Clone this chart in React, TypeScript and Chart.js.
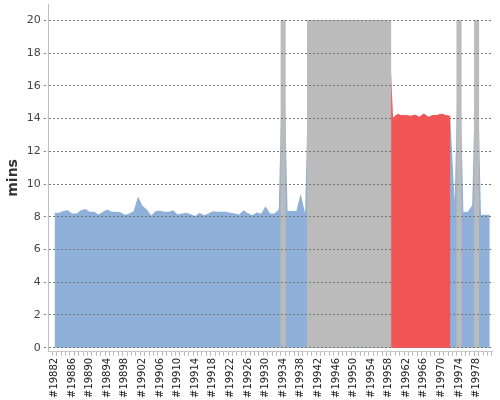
import React, { useEffect, useRef } from 'react';
import { Chart, registerables } from 'chart.js';

Chart.register(...registerables);

// Categories: episode numbers #19882 .. #19981 (one per category)
const FIRST_EPISODE = 19882;
const episodes: number[] = Array.from({ length: 100 }, (_, i) => FIRST_EPISODE + i);
const LABEL_EVERY = 4;
const yTickValues = [0, 2, 4, 6, 8, 10, 12, 14, 16, 18, 20];

// Blue series: minutes per episode (20 = capped/missing spikes)
const blueMins: number[] = [
  8.24, 8.25, 8.35, 8.4, 8.2, 8.2, 8.4, 8.47, 8.3, 8.3,
  8.14, 8.3, 8.45, 8.3, 8.3, 8.28, 8.12, 8.2, 8.35, 9.24,
  8.67, 8.45, 8.08, 8.35, 8.37, 8.3, 8.3, 8.4, 8.14, 8.2,
  8.24, 8.15, 8.05, 8.24, 8.1, 8.2, 8.34, 8.3, 8.3, 8.3,
  8.25, 8.2, 8.14, 8.4, 8.22, 8.1, 8.26, 8.18, 8.64, 8.2,
  8.2, 8.44, 20, 8.36, 8.36, 8.36, 9.4, 8.2, 20, 20,
  20, 20, 20, 20, 20, 20, 20, 20, 20, 20,
  20, 20, 20, 20, 20, 20, 20, 14.05, 14.27, 14.2,
  14.2, 14.15, 14.24, 14.1, 14.3, 14.1, 14.2, 14.2, 14.3, 14.2,
  14.15, 8.9, 20, 8.28, 8.3, 8.7, 20, 8.13, 8.13, 8.13,
];

// Grey series: missing episodes, drawn to the top of the scale
const greyMissing: (number | null)[] = [
  null, null, null, null, null, null, null, null, null, null,
  null, null, null, null, null, null, null, null, null, null,
  null, null, null, null, null, null, null, null, null, null,
  null, null, null, null, null, null, null, null, null, null,
  null, null, null, null, null, null, null, null, null, null,
  null, null, 20, null, null, null, null, null, 20, 20,
  20, 20, 20, 20, 20, 20, 20, 20, 20, 20,
  20, 20, 20, 20, 20, 20, 20, null, null, null,
  null, null, null, null, null, null, null, null, null, null,
  null, null, 20, null, null, null, 20, null, null, null,
];

// Red series: highlighted run of episodes
const redMins: (number | null)[] = [
  null, null, null, null, null, null, null, null, null, null,
  null, null, null, null, null, null, null, null, null, null,
  null, null, null, null, null, null, null, null, null, null,
  null, null, null, null, null, null, null, null, null, null,
  null, null, null, null, null, null, null, null, null, null,
  null, null, null, null, null, null, null, null, null, null,
  null, null, null, null, null, null, null, null, null, null,
  null, null, null, null, null, null, null, 14.05, 14.27, 14.2,
  14.2, 14.15, 14.24, 14.1, 14.3, 14.1, 14.2, 14.2, 14.3, 14.2,
  14.15, null, null, null, null, null, null, null, null, null,
];

const BLUE = '#8fb0d8';
const GREY = '#bbbbbb';
const RED = '#f25555';

export default function App() {
  const ref = useRef<HTMLCanvasElement | null>(null);

  useEffect(() => {
    if (!ref.current) return;
    const redStart = redMins.findIndex((v) => v !== null);

    const redOnTop = {
      id: 'redOnTop',
      afterDraw(chart: any) {
        const meta = chart.getDatasetMeta(0);
        if (typeof chart._drawDataset === 'function') chart._drawDataset(meta);
      },
    };

    Chart.defaults.font.family = "'DejaVu Sans', sans-serif";

    const chart = new Chart(ref.current, {
      type: 'line',
      data: {
        labels: episodes,
        datasets: [
          {
            type: 'line',
            label: 'red',
            data: redMins,
            backgroundColor: RED,
            borderColor: 'transparent',
            borderWidth: 0,
            pointRadius: 0,
            fill: 'origin',
            tension: 0,
            order: 0,
          } as any,
          {
            type: 'bar',
            label: 'missing',
            data: greyMissing,
            backgroundColor: GREY,
            borderWidth: 0,
            barPercentage: 1,
            categoryPercentage: 1,
            order: 1,
          } as any,
          {
            type: 'line',
            label: 'mins',
            data: blueMins,
            backgroundColor: BLUE,
            borderColor: 'transparent',
            borderWidth: 0,
            pointRadius: 0,
            fill: 'origin',
            tension: 0,
            order: 2,
            segment: {
              backgroundColor: (ctx: any) => (ctx.p0DataIndex === redStart - 1 ? RED : undefined),
            },
          } as any,
        ],
      },
      options: {
        responsive: false,
        animation: false,
        events: [],
        layout: { padding: { top: 4, right: 8, left: 2, bottom: 0 } },
        plugins: {
          legend: { display: false },
          tooltip: { enabled: false },
        },
        scales: {
          x: {
            type: 'linear',
            min: FIRST_EPISODE - 0.8,
            max: episodes[episodes.length - 1],
            afterBuildTicks: (axis: any) => {
              axis.ticks = episodes.map((v) => ({ value: v }));
            },
            afterFit: (axis: any) => {
              axis.paddingLeft = 0;
              axis.paddingRight = 0;
            },
            ticks: {
              autoSkip: false,
              maxRotation: 90,
              minRotation: 90,
              padding: 2,
              color: '#222',
              font: { size: 10 },
              callback: (v: any) => ((v - FIRST_EPISODE) % LABEL_EVERY === 0 ? '#' + v : ''),
            },
            grid: { drawOnChartArea: false, drawTicks: true, tickLength: 4, color: '#bbbbbb' },
            border: { color: '#c8c8c8' },
          },
          y: {
            min: -0.25,
            max: 21,
            afterBuildTicks: (axis: any) => {
              axis.ticks = yTickValues.map((v) => ({ value: v }));
            },
            afterFit: (axis: any) => {
              axis.paddingTop = 0;
              axis.paddingBottom = 0;
            },
            ticks: { padding: 3, color: '#444', font: { size: 11 } },
            grid: { color: '#777', z: 1, tickLength: 5, tickBorderDash: [2, 2] },
            border: { color: '#c0c0c0', dash: [2, 2], z: 1 },
            title: {
              display: true,
              text: 'mins',
              color: '#333',
              font: { size: 14, weight: 'bold' },
              padding: { top: 3, bottom: 2 },
            },
          },
        },
      } as any,
      plugins: [redOnTop],
    });

    return () => chart.destroy();
  }, []);

  return (
    <div style={{ position: 'absolute', left: 0, top: 0, width: 500, height: 400 }}>
      <canvas ref={ref} width={500} height={400} />
    </div>
  );
}
